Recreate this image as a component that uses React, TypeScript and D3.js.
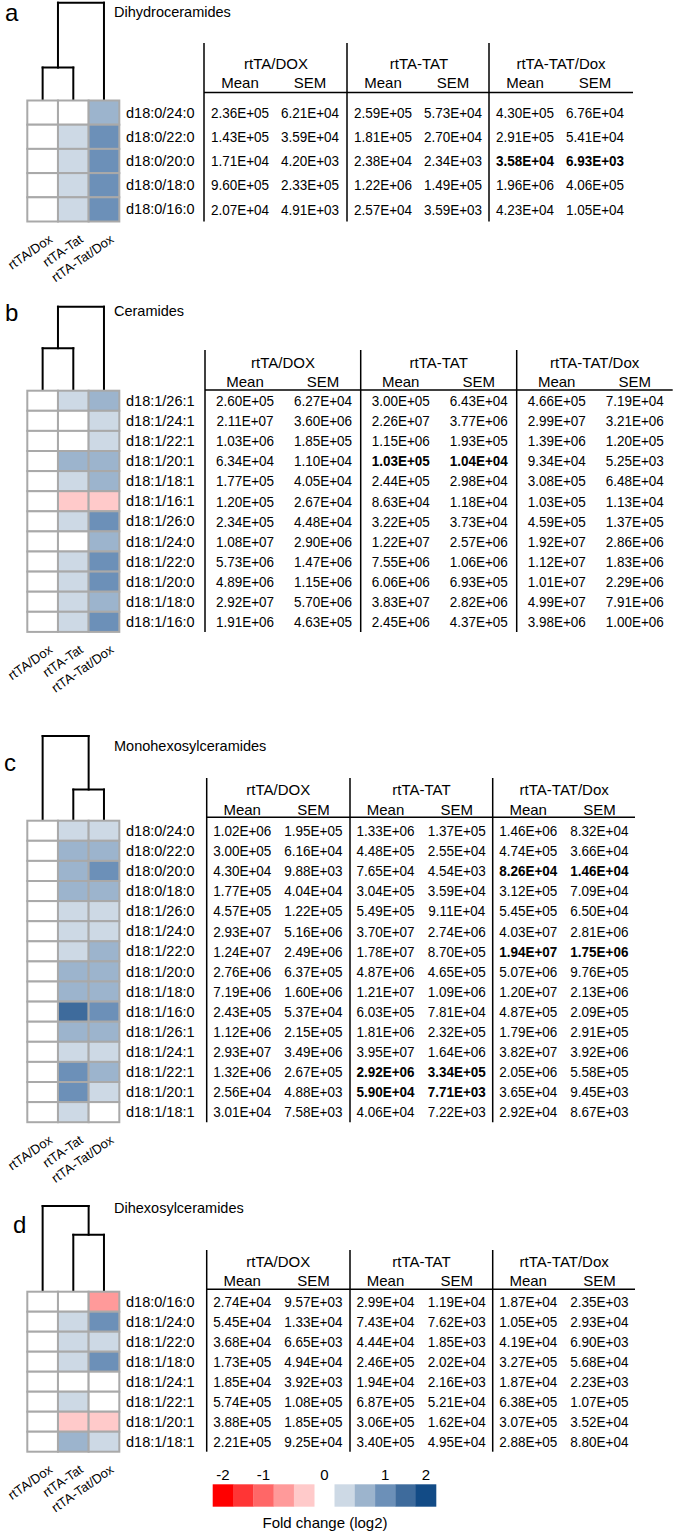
import React from "react";
import * as d3 from "d3";

// ---------- shared categories ----------
const groups = ["rtTA/Dox", "rtTA-Tat", "rtTA-Tat/Dox"];
const tableGroups = ["rtTA/DOX", "rtTA-TAT", "rtTA-TAT/Dox"];
const statNames = ["Mean", "SEM"];

// ---------- panel a: Dihydroceramides ----------
const aLipids = ["d18:0/24:0", "d18:0/22:0", "d18:0/20:0", "d18:0/18:0", "d18:0/16:0"];
const aFold = [
  [0, 0, 0.6],
  [0, 0.3, 1.0],
  [0, 0.3, 1.0],
  [0, 0.3, 1.0],
  [0, 0.3, 1.0],
];
const aValues = [
  [2.36e5, 6.21e4, 2.59e5, 5.73e4, 4.30e5, 6.76e4],
  [1.43e5, 3.59e4, 1.81e5, 2.70e4, 2.91e5, 5.41e4],
  [1.71e4, 4.20e3, 2.38e4, 2.34e3, 3.58e4, 6.93e3],
  [9.60e5, 2.33e5, 1.22e6, 1.49e5, 1.96e6, 4.06e5],
  [2.07e4, 4.91e3, 2.57e4, 3.59e3, 4.23e4, 1.05e4],
];
const aBold = [[2, 2]];
const aTree = { h: 1, children: [{ h: 0.33, children: [{ leaf: 0 }, { leaf: 1 }] }, { leaf: 2 }] };

// ---------- panel b: Ceramides ----------
const bLipids = [
  "d18:1/26:1", "d18:1/24:1", "d18:1/22:1", "d18:1/20:1", "d18:1/18:1", "d18:1/16:1",
  "d18:1/26:0", "d18:1/24:0", "d18:1/22:0", "d18:1/20:0", "d18:1/18:0", "d18:1/16:0",
];
const bFold = [
  [0, 0.3, 0.6],
  [0, 0, 0.3],
  [0, 0, 0.3],
  [0, 0.6, 0.6],
  [0, 0.3, 0.6],
  [0, -0.3, -0.3],
  [0, 0.3, 1.0],
  [0, 0, 0.6],
  [0, 0.3, 1.0],
  [0, 0.3, 1.0],
  [0, 0.3, 0.6],
  [0, 0.3, 1.0],
];
const bValues = [
  [2.60e5, 6.27e4, 3.00e5, 6.43e4, 4.66e5, 7.19e4],
  [2.11e7, 3.60e6, 2.26e7, 3.77e6, 2.99e7, 3.21e6],
  [1.03e6, 1.85e5, 1.15e6, 1.93e5, 1.39e6, 1.20e5],
  [6.34e4, 1.10e4, 1.03e5, 1.04e4, 9.34e4, 5.25e3],
  [1.77e5, 4.05e4, 2.44e5, 2.98e4, 3.08e5, 6.48e4],
  [1.20e5, 2.67e4, 8.63e4, 1.18e4, 1.03e5, 1.13e4],
  [2.34e5, 4.48e4, 3.22e5, 3.73e4, 4.59e5, 1.37e5],
  [1.08e7, 2.90e6, 1.22e7, 2.57e6, 1.92e7, 2.86e6],
  [5.73e6, 1.47e6, 7.55e6, 1.06e6, 1.12e7, 1.83e6],
  [4.89e6, 1.15e6, 6.06e6, 6.93e5, 1.01e7, 2.29e6],
  [2.92e7, 5.70e6, 3.83e7, 2.82e6, 4.99e7, 7.91e6],
  [1.91e6, 4.63e5, 2.45e6, 4.37e5, 3.98e6, 1.00e6],
];
const bBold = [[3, 1]];
const bTree = { h: 1, children: [{ h: 0.5, children: [{ leaf: 0 }, { leaf: 1 }] }, { leaf: 2 }] };

// ---------- panel c: Monohexosylceramides ----------
const cLipids = [
  "d18:0/24:0", "d18:0/22:0", "d18:0/20:0", "d18:0/18:0", "d18:1/26:0", "d18:1/24:0",
  "d18:1/22:0", "d18:1/20:0", "d18:1/18:0", "d18:1/16:0", "d18:1/26:1", "d18:1/24:1",
  "d18:1/22:1", "d18:1/20:1", "d18:1/18:1",
];
const cFold = [
  [0, 0.3, 0.3],
  [0, 0.6, 0.6],
  [0, 0.6, 1.0],
  [0, 0.6, 0.6],
  [0, 0.3, 0.3],
  [0, 0.3, 0.3],
  [0, 0.3, 0.6],
  [0, 0.6, 0.6],
  [0, 0.6, 0.6],
  [0, 1.4, 1.0],
  [0, 0.6, 0.6],
  [0, 0.3, 0.3],
  [0, 1.0, 0.6],
  [0, 1.0, 0.3],
  [0, 0.3, 0],
];
const cValues = [
  [1.02e6, 1.95e5, 1.33e6, 1.37e5, 1.46e6, 8.32e4],
  [3.00e5, 6.16e4, 4.48e5, 2.55e4, 4.74e5, 3.66e4],
  [4.30e4, 9.88e3, 7.65e4, 4.54e3, 8.26e4, 1.46e4],
  [1.77e5, 4.04e4, 3.04e5, 3.59e4, 3.12e5, 7.09e4],
  [4.57e5, 1.22e5, 5.49e5, 9.11e4, 5.45e5, 6.50e4],
  [2.93e7, 5.16e6, 3.70e7, 2.74e6, 4.03e7, 2.81e6],
  [1.24e7, 2.49e6, 1.78e7, 8.70e5, 1.94e7, 1.75e6],
  [2.76e6, 6.37e5, 4.87e6, 4.65e5, 5.07e6, 9.76e5],
  [7.19e6, 1.60e6, 1.21e7, 1.09e6, 1.20e7, 2.13e6],
  [2.43e5, 5.37e4, 6.03e5, 7.81e4, 4.87e5, 2.09e5],
  [1.12e6, 2.15e5, 1.81e6, 2.32e5, 1.79e6, 2.91e5],
  [2.93e7, 3.49e6, 3.95e7, 1.64e6, 3.82e7, 3.92e6],
  [1.32e6, 2.67e5, 2.92e6, 3.34e5, 2.05e6, 5.58e5],
  [2.56e4, 4.88e3, 5.90e4, 7.71e3, 3.65e4, 9.45e3],
  [3.01e4, 7.58e3, 4.06e4, 7.22e3, 2.92e4, 8.67e3],
];
const cBold = [[2, 2], [6, 2], [12, 1], [13, 1]];
const cTree = { h: 1, children: [{ leaf: 0 }, { h: 0.36, children: [{ leaf: 1 }, { leaf: 2 }] }] };

// ---------- panel d: Dihexosylceramides ----------
const dLipids = [
  "d18:0/16:0", "d18:1/24:0", "d18:1/22:0", "d18:1/18:0",
  "d18:1/24:1", "d18:1/22:1", "d18:1/20:1", "d18:1/18:1",
];
const dFold = [
  [0, 0, -0.6],
  [0, 0.3, 1.0],
  [0, 0.3, 0.3],
  [0, 0.3, 1.0],
  [0, 0, 0],
  [0, 0.3, 0],
  [0, -0.3, -0.3],
  [0, 0.6, 0.3],
];
const dValues = [
  [2.74e4, 9.57e3, 2.99e4, 1.19e4, 1.87e4, 2.35e3],
  [5.45e4, 1.33e4, 7.43e4, 7.62e3, 1.05e5, 2.93e4],
  [3.68e4, 6.65e3, 4.44e4, 1.85e3, 4.19e4, 6.90e3],
  [1.73e5, 4.94e4, 2.46e5, 2.02e4, 3.27e5, 5.68e4],
  [1.85e4, 3.92e3, 1.94e4, 2.16e3, 1.87e4, 2.23e3],
  [5.74e5, 1.08e5, 6.87e5, 5.21e4, 6.38e5, 1.07e5],
  [3.88e5, 1.85e5, 3.06e5, 1.62e4, 3.07e5, 3.52e4],
  [2.21e5, 9.25e4, 3.40e5, 4.95e4, 2.88e5, 8.80e4],
];
const dBold: number[][] = [];
const dTree = { h: 1, children: [{ leaf: 0 }, { h: 0.66, children: [{ leaf: 1 }, { leaf: 2 }] }] };

// ---------- legend ----------
const legendBins = [-2, -1.5, -1, -0.5, -0.25, 0, 0.25, 0.5, 1, 1.5, 2];
const legendTicks = [-2, -1, 0, 1, 2];
const legendTitle = "Fold change (log2)";
const palette = [
  "#ff0000", "#ff3535", "#ff6767", "#ff9a9a", "#ffcaca", "#ffffff",
  "#cdd9e5", "#9cb4cd", "#6c90b8", "#3e6b9c", "#124b86",
];

const color = d3
  .scaleThreshold<number, string>()
  .domain([-1.75, -1.25, -0.75, -0.375, -0.125, 0.125, 0.375, 0.75, 1.25, 1.75])
  .range(palette);

const FONT = "'Liberation Sans', Arial, Helvetica, sans-serif";

function fmt(v: number) {
  const [m, e] = v.toExponential(2).split("e");
  const n = +e;
  return `${m}E${n < 0 ? "-" : "+"}${String(Math.abs(n)).padStart(2, "0")}`;
}

function T(props: any) {
  const { x, y, size = 14, anchor = "start", weight = "normal", sx = 1, rotate = 0, children } = props;
  return (
    <text
      transform={`translate(${x},${y}) rotate(${rotate}) scale(${sx},1)`}
      textAnchor={anchor}
      fontSize={size}
      fontWeight={weight}
      dy="0.35em"
      fontFamily={FONT}
      fill="#000"
    >
      {children}
    </text>
  );
}

const panels = [
  {
    letter: "a", title: "Dihydroceramides", lipids: aLipids, fold: aFold, values: aValues, bold: aBold, tree: aTree,
    letterX: 5, letterY: 13, titleY: 12, rootY: 2.7, hmTop: 100.5, rowH: 24.2,
    tx: [204, 347, 489], tRight: 633, tTop: 43, headY: 64, subY: 83, lineY: 92.5,
    meanOff: 36, semOff: 106, titleOff: 72,
  },
  {
    letter: "b", title: "Ceramides", lipids: bLipids, fold: bFold, values: bValues, bold: bBold, tree: bTree,
    letterX: 5, letterY: 313, titleY: 311, rootY: 306.7, hmTop: 390.7, rowH: 20.1,
    tx: [205, 360.7, 516.7], tRight: 672.7, tTop: 350, headY: 362.7, subY: 381.7, lineY: 390,
    meanOff: 40, semOff: 118, titleOff: 78,
  },
  {
    letter: "c", title: "Monohexosylceramides", lipids: cLipids, fold: cFold, values: cValues, bold: cBold, tree: cTree,
    letterX: 4, letterY: 763, titleY: 746, rootY: 736, hmTop: 820.7, rowH: 20.1,
    tx: [206.7, 350, 492.7], tRight: 635, tTop: 778, headY: 789.3, subY: 809.3, lineY: 817.3,
    meanOff: 35.5, semOff: 106.7, titleOff: 71.5,
  },
  {
    letter: "d", title: "Dihexosylceramides", lipids: dLipids, fold: dFold, values: dValues, bold: dBold, tree: dTree,
    letterX: 13, letterY: 1225, titleY: 1208, rootY: 1206, hmTop: 1291.7, rowH: 20,
    tx: [206.7, 350, 492.7], tRight: 635, tTop: 1250, headY: 1261.7, subY: 1280.7, lineY: 1289.3,
    meanOff: 35.5, semOff: 106.7, titleOff: 71.5,
  },
];

const xBand = d3.scaleBand<string>().domain(groups).range([27.3, 119.3]).padding(0);

function Dendrogram({ tree, rootY, leafY }: any) {
  const root = d3.hierarchy(tree, (d: any) => d.children);
  const yScale = d3.scaleLinear().domain([0, 1]).range([leafY, rootY]);
  const px = (n: any): number => {
    if (n.data.leaf !== undefined) return (xBand(groups[n.data.leaf]) as number) + xBand.bandwidth() / 2;
    const xs = n.children.map(px);
    return (xs[0] + xs[xs.length - 1]) / 2;
  };
  const py = (n: any): number => (n.data.leaf !== undefined ? leafY : yScale(n.data.h));
  const paths: string[] = [];
  root.each((n: any) => {
    if (!n.children) return;
    const y = py(n);
    const xs = n.children.map(px);
    paths.push(`M${xs[0]},${y}H${xs[xs.length - 1]}`);
    n.children.forEach((c: any, i: number) => {
      paths.push(`M${xs[i]},${y}V${py(c)}`);
    });
  });
  return (
    <g stroke="#000" strokeWidth={2} fill="none" strokeLinecap="square">
      {paths.map((d, i) => (
        <path key={i} d={d} />
      ))}
    </g>
  );
}

function Panel({ p }: any) {
  const n = p.lipids.length;
  const yBand = d3.scaleBand<string>().domain(p.lipids).range([p.hmTop, p.hmTop + n * p.rowH]);
  const hmBottom = p.hmTop + n * p.rowH;
  const isBold = (r: number, g: number) => p.bold.some((b: number[]) => b[0] === r && b[1] === g);
  return (
    <g>
      <T x={p.letterX} y={p.letterY} size={24}>{p.letter}</T>
      <T x={114} y={p.titleY} size={14.5}>{p.title}</T>
      <Dendrogram tree={p.tree} rootY={p.rootY} leafY={p.hmTop - 1} />
      {/* heatmap */}
      <g>
        {p.lipids.map((lip: string, r: number) =>
          groups.map((g, c) => (
            <rect
              key={lip + g}
              x={xBand(g)}
              y={yBand(lip)}
              width={xBand.bandwidth()}
              height={yBand.bandwidth()}
              fill={color(p.fold[r][c])}
              stroke="#a9a9a9"
              strokeWidth={2}
            />
          ))
        )}
      </g>
      {/* row labels */}
      {p.lipids.map((lip: string) => (
        <T key={lip} x={126} y={(yBand(lip) as number) + yBand.bandwidth() / 2} size={14.5}>
          {lip}
        </T>
      ))}
      {/* column labels */}
      {groups.map((g) => (
        <T
          key={g}
          x={(xBand(g) as number) + xBand.bandwidth() / 2 + 8}
          y={hmBottom + 16}
          size={13}
          anchor="end"
          rotate={-35}
        >
          {g}
        </T>
      ))}
      {/* table */}
      <g stroke="#000" strokeWidth={1.5}>
        {p.tx.map((x: number, i: number) => (
          <line key={i} x1={x} x2={x} y1={p.tTop} y2={hmBottom} />
        ))}
        <line x1={p.tx[0]} x2={p.tRight} y1={p.lineY} y2={p.lineY} />
      </g>
      {tableGroups.map((g, gi) => (
        <g key={g}>
          <T x={p.tx[gi] + p.titleOff} y={p.headY} size={15} anchor="middle">{g}</T>
          <T x={p.tx[gi] + p.meanOff} y={p.subY} size={15} anchor="middle">{statNames[0]}</T>
          <T x={p.tx[gi] + p.semOff} y={p.subY} size={15} anchor="middle">{statNames[1]}</T>
        </g>
      ))}
      {p.values.map((row: number[], r: number) => {
        const yc = (yBand(p.lipids[r]) as number) + yBand.bandwidth() / 2;
        return row.map((v, k) => {
          const gi = Math.floor(k / 2);
          const off = k % 2 === 0 ? p.meanOff : p.semOff;
          return (
            <T
              key={r + "-" + k}
              x={p.tx[gi] + off}
              y={yc}
              size={15}
              sx={0.9}
              anchor="middle"
              weight={isBold(r, gi) ? "bold" : "normal"}
            >
              {fmt(v)}
            </T>
          );
        });
      })}
    </g>
  );
}

function Legend() {
  const lx = d3.scaleBand<number>().domain(legendBins).range([212.7, 436]).padding(0);
  const boxTop = 1484.3;
  const boxH = 22.4;
  return (
    <g>
      {legendBins
        .filter((b) => b !== 0)
        .map((b) => (
          <rect key={b} x={lx(b)} y={boxTop} width={lx.bandwidth() + 0.3} height={boxH} fill={color(b)} />
        ))}
      {legendTicks.map((t) => (
        <T key={t} x={(lx(t) as number) + lx.bandwidth() / 2} y={1475} size={15} anchor="middle">
          {String(t)}
        </T>
      ))}
      <T x={325} y={1523} size={15} anchor="middle">{legendTitle}</T>
    </g>
  );
}

export default function App() {
  return (
    <svg
      width={675}
      height={1533}
      viewBox="0 0 675 1533"
      style={{ position: "absolute", left: 0, top: 0, background: "#fff", display: "block" }}
    >
      <rect width={675} height={1533} fill="#fff" />
      {panels.map((p) => (
        <Panel key={p.letter} p={p} />
      ))}
      <Legend />
    </svg>
  );
}
